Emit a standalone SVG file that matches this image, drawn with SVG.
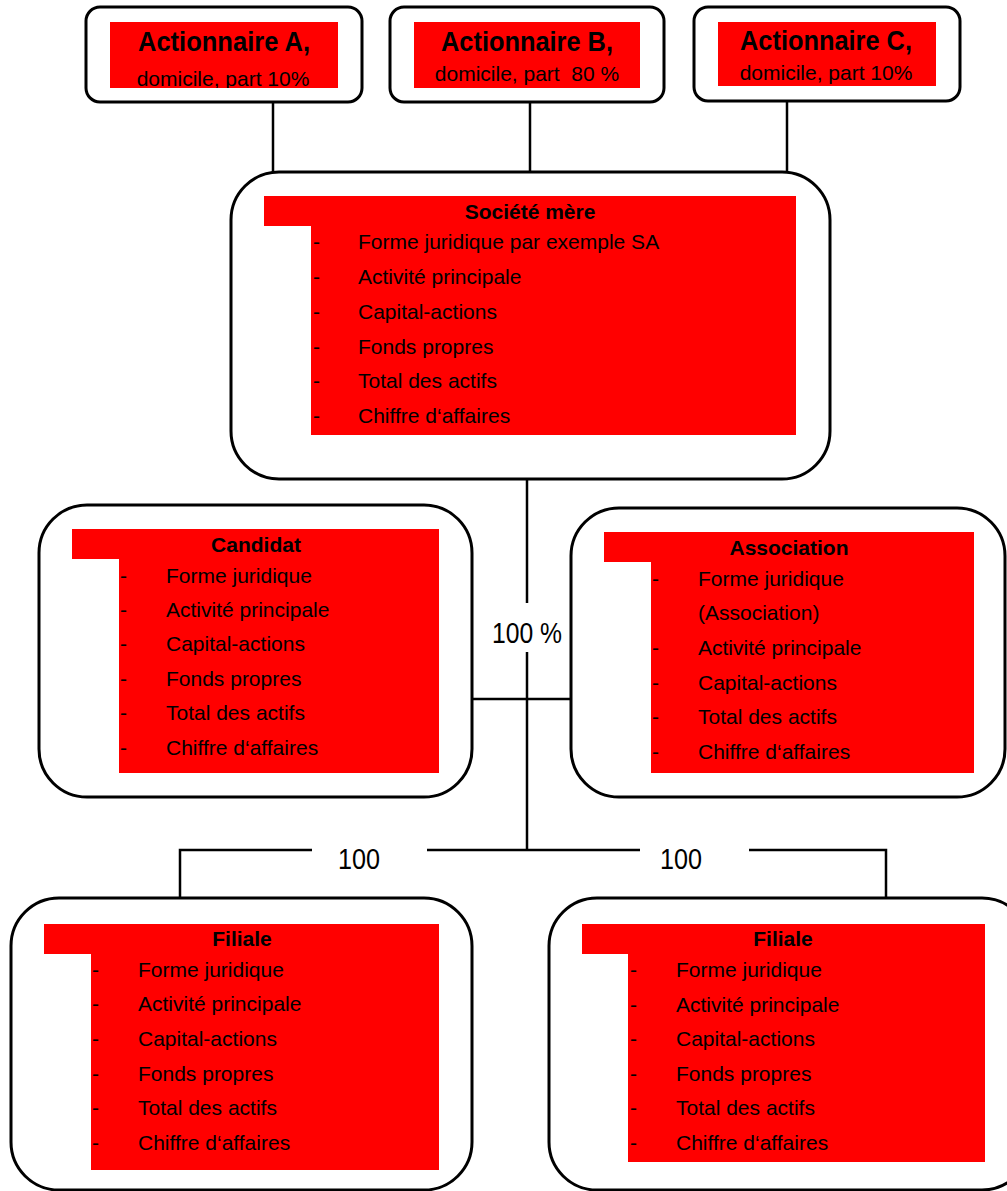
<svg xmlns="http://www.w3.org/2000/svg" width="1007" height="1191" viewBox="0 0 1007 1191">
<style>
.box{fill:#fff;stroke:#000;stroke-width:3}
.red{fill:#ff0000}
.t{font-family:"Liberation Sans",Arial,sans-serif;font-size:21px;fill:#000}
.b{font-family:"Liberation Sans",Arial,sans-serif;font-size:21px;font-weight:bold;fill:#000;text-anchor:middle}
.big{font-family:"Liberation Sans",Arial,sans-serif;font-size:28px;font-weight:bold;fill:#000;text-anchor:middle}
.sub{font-family:"Liberation Sans",Arial,sans-serif;font-size:21px;fill:#000;text-anchor:middle}
.lbl{font-family:"Liberation Sans",Arial,sans-serif;font-size:29px;fill:#000;text-anchor:middle}
.ln{fill:none;stroke:#000;stroke-width:2.5}
</style>
<defs>
<clipPath id="clipA"><rect x="110" y="22" width="228" height="66"/></clipPath>
</defs>
<rect width="1007" height="1191" fill="#fff"/>

<g id="connectors">
<line class="ln" x1="273" y1="102" x2="273" y2="172"/>
<line class="ln" x1="530" y1="102" x2="530" y2="172"/>
<line class="ln" x1="787" y1="101" x2="787" y2="172"/>
<line class="ln" x1="527" y1="479" x2="527" y2="603"/>
<line class="ln" x1="527" y1="652" x2="527" y2="850"/>
<line class="ln" x1="472" y1="699" x2="571" y2="699"/>
<polyline class="ln" points="180,898 180,850 312,850"/>
<line class="ln" x1="427" y1="850" x2="640" y2="850"/>
<polyline class="ln" points="749,850 886,850 886,898"/>
<text class="lbl" x="527" y="643" textLength="70" lengthAdjust="spacingAndGlyphs">100 %</text>
<text class="lbl" x="359" y="869" textLength="42" lengthAdjust="spacingAndGlyphs">100</text>
<text class="lbl" x="681" y="869" textLength="42" lengthAdjust="spacingAndGlyphs">100</text>
</g>

<g id="actionnaire-a">
<rect class="box" x="86" y="7" width="276" height="95" rx="14"/>
<rect class="red" x="110" y="22" width="228" height="66"/>
<text class="big" x="224" y="51" textLength="172" lengthAdjust="spacingAndGlyphs">Actionnaire A,</text>
<text class="sub" x="223" y="86" clip-path="url(#clipA)">domicile, part 10%</text>
</g>

<g id="actionnaire-b">
<rect class="box" x="390" y="7" width="274" height="95" rx="14"/>
<rect class="red" x="414" y="22" width="226" height="66"/>
<text class="big" x="527" y="51" textLength="172" lengthAdjust="spacingAndGlyphs">Actionnaire B,</text>
<text class="sub" x="527" y="81" xml:space="preserve">domicile, part  80 %</text>
</g>

<g id="actionnaire-c">
<rect class="box" x="694" y="7" width="266" height="94" rx="14"/>
<rect class="red" x="718" y="22" width="218" height="64"/>
<text class="big" x="826" y="50" textLength="172" lengthAdjust="spacingAndGlyphs">Actionnaire C,</text>
<text class="sub" x="826" y="80">domicile, part 10%</text>
</g>

<g id="societe-mere">
<rect class="box" x="231" y="172" width="599" height="307" rx="48"/>
<rect class="red" x="264" y="196" width="532" height="30"/>
<rect class="red" x="311" y="226" width="485" height="209"/>
<text class="b" x="530" y="219">Société mère</text>
<g class="t">
<text x="313" y="249">-</text><text x="358" y="249">Forme juridique par exemple SA</text>
<text x="313" y="284">-</text><text x="358" y="284">Activité principale</text>
<text x="313" y="319">-</text><text x="358" y="319">Capital-actions</text>
<text x="313" y="354">-</text><text x="358" y="354">Fonds propres</text>
<text x="313" y="388">-</text><text x="358" y="388">Total des actifs</text>
<text x="313" y="423">-</text><text x="358" y="423">Chiffre d‘affaires</text>
</g>
</g>

<g id="candidat">
<rect class="box" x="39" y="505" width="433" height="292" rx="48"/>
<rect class="red" x="72" y="529" width="367" height="30"/>
<rect class="red" x="119" y="559" width="320" height="214"/>
<text class="b" x="256" y="552">Candidat</text>
<g class="t">
<text x="120" y="583">-</text><text x="166" y="583">Forme juridique</text>
<text x="120" y="617">-</text><text x="166" y="617">Activité principale</text>
<text x="120" y="651">-</text><text x="166" y="651">Capital-actions</text>
<text x="120" y="686">-</text><text x="166" y="686">Fonds propres</text>
<text x="120" y="720">-</text><text x="166" y="720">Total des actifs</text>
<text x="120" y="755">-</text><text x="166" y="755">Chiffre d‘affaires</text>
</g>
</g>

<g id="association">
<rect class="box" x="571" y="508" width="434" height="289" rx="48"/>
<rect class="red" x="604" y="532" width="370" height="30"/>
<rect class="red" x="651" y="562" width="323" height="211"/>
<text class="b" x="789" y="555">Association</text>
<g class="t">
<text x="652" y="586">-</text><text x="698" y="586">Forme juridique</text>
<text x="698" y="620">(Association)</text>
<text x="652" y="655">-</text><text x="698" y="655">Activité principale</text>
<text x="652" y="690">-</text><text x="698" y="690">Capital-actions</text>
<text x="652" y="724">-</text><text x="698" y="724">Total des actifs</text>
<text x="652" y="759">-</text><text x="698" y="759">Chiffre d‘affaires</text>
</g>
</g>

<g id="filiale-1">
<rect class="box" x="11" y="898" width="461" height="292" rx="48"/>
<rect class="red" x="44" y="924" width="395" height="30"/>
<rect class="red" x="91" y="954" width="348" height="216"/>
<text class="b" x="242" y="946">Filiale</text>
<g class="t">
<text x="92" y="977">-</text><text x="138" y="977">Forme juridique</text>
<text x="92" y="1011">-</text><text x="138" y="1011">Activité principale</text>
<text x="92" y="1046">-</text><text x="138" y="1046">Capital-actions</text>
<text x="92" y="1081">-</text><text x="138" y="1081">Fonds propres</text>
<text x="92" y="1115">-</text><text x="138" y="1115">Total des actifs</text>
<text x="92" y="1150">-</text><text x="138" y="1150">Chiffre d‘affaires</text>
</g>
</g>

<g id="filiale-2">
<rect class="box" x="549" y="898" width="481" height="292" rx="48"/>
<rect class="red" x="582" y="924" width="403" height="30"/>
<rect class="red" x="628" y="954" width="357" height="208"/>
<text class="b" x="783" y="946">Filiale</text>
<g class="t">
<text x="630" y="977">-</text><text x="676" y="977">Forme juridique</text>
<text x="630" y="1012">-</text><text x="676" y="1012">Activité principale</text>
<text x="630" y="1046">-</text><text x="676" y="1046">Capital-actions</text>
<text x="630" y="1081">-</text><text x="676" y="1081">Fonds propres</text>
<text x="630" y="1115">-</text><text x="676" y="1115">Total des actifs</text>
<text x="630" y="1150">-</text><text x="676" y="1150">Chiffre d‘affaires</text>
</g>
</g>
</svg>
